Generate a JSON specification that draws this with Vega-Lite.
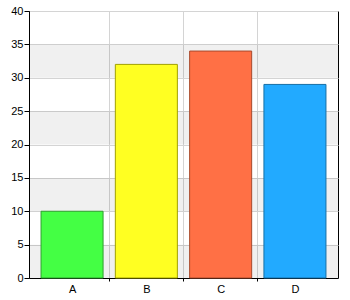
{
  "$schema": "https://vega.github.io/schema/vega-lite/v6.json",
  "width": 309,
  "height": 267,
  "autosize": "none",
  "padding": {"left": 29, "top": 11, "right": 12, "bottom": 22},
  "background": "white",
  "config": {
    "view": {"stroke": "black", "strokeWidth": 1},
    "axis": {"labelFont": "Liberation Sans", "labelFontSize": 11, "labelColor": "black", "domainColor": "black", "tickColor": "black", "gridColor": "#d4d4d4"}
  },
  "datasets": {
    "bands": [
      {"lo": 0, "hi": 5},
      {"lo": 10, "hi": 15},
      {"lo": 20, "hi": 25},
      {"lo": 30, "hi": 35}
    ],
    "bars": [
      {"cat": "A", "value": 10},
      {"cat": "B", "value": 32},
      {"cat": "C", "value": 34},
      {"cat": "D", "value": 29}
    ]
  },
  "layer": [
    {
      "data": {"name": "bands"},
      "mark": {"type": "rect", "fill": "black", "fillOpacity": 0.06, "x": 0, "x2": {"expr": "width"}},
      "encoding": {
        "y": {
          "field": "lo", "type": "quantitative", "title": null,
          "scale": {"domain": [0, 40], "nice": false},
          "axis": {"values": [0, 5, 10, 15, 20, 25, 30, 35, 40], "labelOverlap": false, "tickSize": 5, "labelPadding": 1, "grid": true}
        },
        "y2": {"field": "hi"}
      }
    },
    {
      "data": {"name": "bars"},
      "mark": {"type": "bar", "strokeWidth": 1},
      "encoding": {
        "x": {
          "field": "cat", "type": "nominal", "title": null,
          "scale": {"paddingInner": 0.165, "paddingOuter": 0.162},
          "axis": {
            "labelAngle": 0, "grid": true, "bandPosition": 0, "tickOffset": -6.5, "labelOffset": 6.5,
            "tickSize": 3, "labelPadding": 2,
            "gridOpacity": {"condition": {"test": "datum.value === 'A'", "value": 0}, "value": 1},
            "tickOpacity": {"condition": {"test": "datum.value === 'A'", "value": 0}, "value": 1}
          }
        },
        "y": {
          "field": "value", "type": "quantitative", "title": null,
          "scale": {"domain": [0, 40], "nice": false},
          "axis": {"values": [0, 5, 10, 15, 20, 25, 30, 35, 40], "labelOverlap": false, "tickSize": 5, "labelPadding": 1, "grid": true}
        },
        "fill": {
          "field": "cat", "type": "nominal", "legend": null,
          "scale": {"domain": ["A", "B", "C", "D"], "range": ["#44ff44", "#ffff22", "#ff7045", "#22aaff"]}
        },
        "stroke": {
          "field": "cat", "type": "nominal", "legend": null,
          "scale": {"domain": ["A", "B", "C", "D"], "range": ["#2f9f2f", "#a0a000", "#a84a2c", "#176fa6"]}
        }
      }
    }
  ]
}
